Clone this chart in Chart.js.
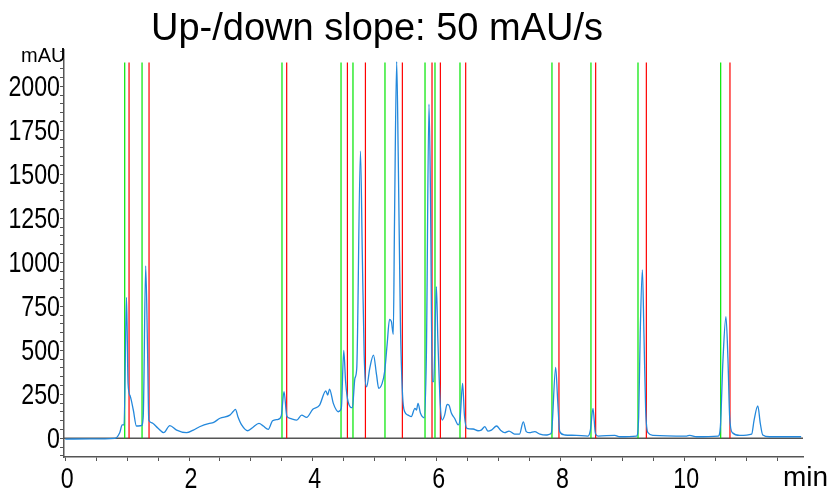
<!DOCTYPE html>
<html>
<head>
<meta charset="utf-8">
<script src="https://cdn.jsdelivr.net/npm/chart.js@4.4.0/dist/chart.umd.min.js"></script>
<style>
    html, body { margin: 0; padding: 0; background: #fff; }
    #wrap { position: relative; width: 830px; height: 489px; }
</style>
</head>
<body>
<div id="wrap"><canvas id="chromChart"></canvas></div>
<script>
// Chromatogram trace (retention time in min, signal in mAU)
const times = [
    0.00, 0.40, 0.80, 0.88, 0.92, 0.95, 0.99, 1.015, 1.05, 1.10,
    1.15, 1.23, 1.26, 1.30, 1.33, 1.35, 1.39, 1.50, 1.59, 1.69,
    1.80, 1.96, 2.07, 2.17, 2.33, 2.39, 2.50, 2.66, 2.71, 2.75,
    2.79, 2.85, 2.95, 3.03, 3.13, 3.20, 3.28, 3.35, 3.44, 3.49,
    3.535, 3.58, 3.63, 3.74, 3.82, 3.90, 4.00, 4.11, 4.21, 4.24,
    4.27, 4.33, 4.38, 4.41, 4.46, 4.50, 4.53, 4.57, 4.64, 4.68,
    4.71, 4.77, 4.80, 4.83, 4.87, 4.92, 4.98, 5.03, 5.065, 5.12,
    5.16, 5.20, 5.24, 5.27, 5.30, 5.32, 5.355, 5.38, 5.415, 5.45,
    5.485, 5.54, 5.59, 5.65, 5.675, 5.70, 5.74, 5.80, 5.835, 5.877,
    5.90, 5.93, 5.953, 5.997, 6.02, 6.06, 6.09, 6.13, 6.17, 6.20,
    6.24, 6.29, 6.35, 6.38, 6.42, 6.45, 6.49, 6.59, 6.67, 6.72,
    6.78, 6.83, 6.885, 6.97, 7.03, 7.10, 7.17, 7.26, 7.34, 7.40,
    7.45, 7.50, 7.585, 7.67, 7.77, 7.83, 7.855, 7.924, 7.956, 7.99,
    8.07, 8.26, 8.446, 8.485, 8.527, 8.566, 8.61, 8.88, 8.96, 9.23,
    9.265, 9.29, 9.325, 9.35, 9.378, 9.415, 9.50, 10.04, 10.09, 10.20,
    10.55, 10.585, 10.627, 10.675, 10.708, 10.735, 10.78, 10.90, 11.09, 11.13,
    11.19, 11.23, 11.27, 11.38, 11.89
];
const signal = [
    -4, -3, 0, 32, 76, 76, 801, 312, 240, 161,
    70, 72, 123, 979, 502, 104, 89, 57, 32, 72,
    47, 32, 47, 66, 85, 89, 114, 132, 151, 165,
    123, 76, 43, 62, 85, 70, 51, 100, 108, 127,
    265, 127, 114, 104, 132, 119, 165, 189, 270, 246,
    280, 200, 161, 151, 170, 500, 322, 208, 174, 341,
    398, 1632, 1041, 473, 293, 398, 473, 360, 284, 312,
    378, 530, 676, 663, 591, 1231, 2140, 1610, 663, 246,
    151, 132, 123, 170, 161, 199, 142, 117, 473, 1898,
    1420, 322, 322, 861, 568, 189, 104, 132, 193, 189,
    142, 114, 76, 114, 312, 130, 57, 53, 43, 47,
    66, 41, 47, 70, 47, 32, 41, 24, 24, 94,
    38, 32, 38, 24, 19, 24, 32, 403, 218, 38,
    19, 17, 13, 47, 170, 28, 13, 17, 9, 13,
    123, 597, 957, 597, 161, 32, 17, 13, 17, 9,
    13, 66, 445, 691, 445, 123, 32, 17, 24, 104,
    184, 85, 19, 9, 9
];

// Integration events: peak start (green) and peak end (red), in min
const peakStarts = [0.961, 1.241, 3.502, 4.456, 4.649, 5.166, 5.813, 5.974, 6.378, 7.864, 8.494, 9.254, 10.590];
const peakEnds = [1.031, 1.354, 3.578, 4.559, 4.850, 5.447, 5.926, 6.061, 6.470, 7.977, 8.570, 9.389, 10.740];
const markerTop = 2135;

const yTickLabels = [0, 250, 500, 750, 1000, 1250, 1500, 1750, 2000];
const xTickLabels = [0, 2, 4, 6, 8, 10];

const titleText = 'Up-/down slope: 50 mAU/s';
const yUnit = 'mAU';
const xUnit = 'min';

function markerData(list) {
    const out = [];
    list.forEach(function(t) {
        out.push({ x: t, y: 0 }, { x: t, y: markerTop }, { x: t, y: null });
    });
    return out;
}

const axisColor = '#555555';
const labelFont = "29px 'Liberation Sans', Arial, sans-serif";

// zero line, tick labels (narrow), title and unit labels
const labelsPlugin = {
    id: 'labels',
    beforeDatasetsDraw(chart) {
        const ctx = chart.ctx;
        const area = chart.chartArea;
        const y0 = chart.scales.y.getPixelForValue(0);
        ctx.save();
        ctx.strokeStyle = axisColor;
        ctx.lineWidth = 1.5;
        ctx.beginPath();
        ctx.moveTo(area.left, y0);
        ctx.lineTo(area.right, y0);
        ctx.stroke();
        ctx.restore();
    },
    afterDraw(chart) {
        const ctx = chart.ctx;
        const xs = chart.scales.x;
        const ys = chart.scales.y;
        ctx.save();
        ctx.fillStyle = '#000';
        ctx.font = labelFont;

        ctx.textAlign = 'right';
        ctx.textBaseline = 'middle';
        yTickLabels.forEach(function(v) {
            ctx.save();
            ctx.translate(60, ys.getPixelForValue(v) + 1.5);
            ctx.scale(0.8, 1);
            ctx.fillText(String(v), 0, 0);
            ctx.restore();
        });

        ctx.textAlign = 'center';
        ctx.textBaseline = 'alphabetic';
        xTickLabels.forEach(function(v) {
            ctx.save();
            ctx.translate(xs.getPixelForValue(v) + 2, 488);
            ctx.scale(0.8, 1);
            ctx.fillText(String(v), 0, 0);
            ctx.restore();
        });

        ctx.font = "38px 'Liberation Sans', Arial, sans-serif";
        ctx.fillText(titleText, 377, 40);
        ctx.textAlign = 'left';
        ctx.font = "20px 'Liberation Sans', Arial, sans-serif";
        ctx.fillText(yUnit, 21, 62);
        ctx.font = "28px 'Liberation Sans', Arial, sans-serif";
        ctx.fillText(xUnit, 783, 486);
        ctx.restore();
    }
};

document.addEventListener('DOMContentLoaded', function() {
    if (typeof Chart === 'undefined') {
        console.error('Chart.js not loaded');
        return;
    }

    const ctx = document.getElementById('chromChart');
    new Chart(ctx, {
        type: 'line',
        data: {
            datasets: [
                {
                    label: 'Signal',
                    data: times.map(function(t, i) { return { x: t, y: signal[i] }; }),
                    borderColor: '#2388dc',
                    borderWidth: 1.3,
                    pointRadius: 0,
                    cubicInterpolationMode: 'monotone',
                    order: 0
                },
                {
                    label: 'Peak start',
                    data: markerData(peakStarts),
                    borderColor: 'rgb(0, 230, 0)',
                    borderWidth: 1.2,
                    pointRadius: 0,
                    spanGaps: false,
                    order: 1
                },
                {
                    label: 'Peak end',
                    data: markerData(peakEnds),
                    borderColor: 'rgb(255, 0, 0)',
                    borderWidth: 1.2,
                    pointRadius: 0,
                    spanGaps: false,
                    order: 2
                }
            ]
        },
        options: {
            responsive: true,
            maintainAspectRatio: false,
            animation: false,
            events: [],
            layout: { padding: { top: 50, right: 27, left: 0, bottom: 0 } },
            plugins: {
                legend: { display: false },
                tooltip: { enabled: false }
            },
            scales: {
                x: {
                    type: 'linear',
                    min: -0.02,
                    max: 11.92,
                    afterFit: function(scale) { scale.height = 32; },
                    border: { color: axisColor, width: 1.5 },
                    grid: { drawOnChartArea: false, tickLength: 4, tickColor: axisColor },
                    ticks: {
                        stepSize: 0.5,
                        includeBounds: false,
                        autoSkip: false,
                        maxRotation: 0,
                        padding: 0,
                        callback: function() { return ''; }
                    }
                },
                y: {
                    min: -106,
                    max: 2206,
                    afterFit: function(scale) { scale.width = 64; },
                    border: { color: axisColor, width: 1.5 },
                    grid: { drawOnChartArea: false, tickLength: 4, tickColor: axisColor },
                    ticks: {
                        stepSize: 50,
                        includeBounds: false,
                        autoSkip: false,
                        padding: 0,
                        callback: function() { return ''; }
                    }
                }
            }
        },
        plugins: [labelsPlugin]
    });
});
</script>
</body>
</html>
